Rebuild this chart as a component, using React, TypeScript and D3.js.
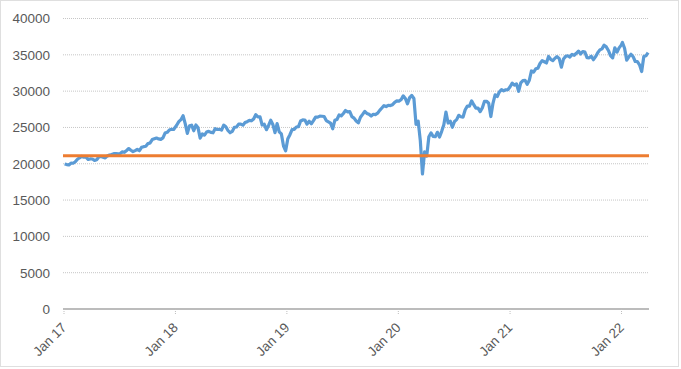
import React from 'react';
import * as d3 from 'd3';

// weekly closes (one array per year)
const dow2017 = [
  19964, 19886, 19827, 20094, 20071, 20269, 20624, 20822, 21005, 20902,
  20914, 20596, 20663, 20656, 20453, 20547, 20940, 21006, 20896, 20804,
  21080, 21206, 21271, 21384, 21394, 21349, 21414, 21637, 21580, 21830,
  22092, 21858, 21674, 21813, 21987, 21797, 22268, 22349, 22405, 22773,
  22871, 23328, 23434, 23539, 23422, 23358, 23557, 24231, 24329, 24651,
  24754, 24719,
];
const dow2018 = [
  25296, 25803, 26072, 26617, 25521, 24191, 25219, 25310, 24538, 25336,
  24947, 23533, 24103, 23933, 24360, 24463, 24311, 24263, 24831, 24715,
  24753, 24635, 25317, 25090, 24580, 24271, 24456, 25019, 25058, 25451,
  25463, 25313, 25669, 25790, 25965, 25917, 26155, 26744, 26458, 26447,
  25340, 25444, 24688, 25271, 25989, 25413, 24286, 25538, 24389, 24101,
  22445, 21792,
];
const dow2019 = [
  23433, 23996, 24706, 24737, 25064, 25106, 25883, 26031, 26026, 25450,
  25849, 25502, 25929, 26425, 26412, 26559, 26543, 26505, 25942, 25764,
  25586, 24815, 25984, 26090, 26719, 26600, 26922, 27332, 27154, 27192,
  26485, 26287, 25886, 25629, 26403, 26797, 27220, 26935, 26820, 26573,
  26817, 26770, 26958, 27347, 27681, 28005, 27876, 28051, 28015, 28135,
  28455, 28645,
];
const dow2020 = [
  28635, 28823, 29348, 28990, 28256, 29103, 29398, 28992, 25409, 25865,
  23186, 18591, 21637, 21053, 23719, 24242, 23775, 23724, 24331, 23685,
  24465, 25383, 27111, 25606, 25871, 25016, 25827, 26075, 26672, 26470,
  26428, 27433, 27931, 27930, 28654, 28133, 27666, 27657, 27174, 27682,
  28587, 28606, 28336, 26502, 28323, 29480, 29263, 29910, 30218, 30046,
  30179, 30200,
];
const dow2021 = [
  30606, 31098, 30814, 30997, 29983, 31148, 31458, 31494, 30932, 31496,
  32779, 32628, 33072, 33153, 33801, 34200, 34043, 33875, 34778, 34382,
  34208, 34529, 34756, 34480, 33290, 34433, 34786, 34870, 34687, 35062,
  34935, 35209, 35515, 35120, 35456, 35369, 34608, 34585, 34798, 34327,
  34746, 35295, 35677, 35820, 36328, 36100, 35602, 34899, 34580, 35971,
  35365, 35951, 36338,
];
const dow2022 = [
  36700, 35912, 34265, 34725, 35090, 34738, 34079, 34059, 33615, 32700,
  34755, 34861, 35300,
];

const yearStarts = ['2017-01-03', '2018-01-05', '2019-01-04', '2020-01-03', '2021-01-01', '2022-01-04'];
const yearSeries = [dow2017, dow2018, dow2019, dow2020, dow2021, dow2022];

const thresholdValue = 21100;
const yTicks = [0, 5000, 10000, 15000, 20000, 25000, 30000, 35000, 40000];
const xTickYears = [2017, 2018, 2019, 2020, 2021, 2022];

const W = 681;
const H = 369;

const parse = d3.timeParse('%Y-%m-%d');
const points: { date: Date; value: number }[] = [];
yearSeries.forEach((vals, yi) => {
  const start = parse(yearStarts[yi]) as Date;
  vals.forEach((v, i) => points.push({ date: d3.timeDay.offset(start, i * 7), value: v }));
});

const x = d3.scaleTime()
  .domain([new Date(2017, 0, 1), new Date(2022, 3, 1)])
  .range([64, 649]);
const y = d3.scaleLinear().domain([0, 40000]).range([309, 18.5]);

const line = d3.line<{ date: Date; value: number }>()
  .x(d => x(d.date))
  .y(d => y(d.value));

const fmt = d3.timeFormat('%b %y');
const font = '"Liberation Sans", Arial, sans-serif';

export default function App() {
  const [x0, x1] = x.range();
  return (
    <svg width={W} height={H} style={{ position: 'absolute', left: 0, top: 0, background: '#fff' }}>
      <rect x={0.5} y={0.5} width={W - 3} height={H - 3} fill="#fff" stroke="#bfbfbf" strokeDasharray="1,1" />
      {/* gridlines */}
      {yTicks.filter(t => t > 0).map(t => (
        <line key={t} x1={x0 - 1} x2={x1} y1={y(t)} y2={y(t)} stroke="#c6c6c6" strokeDasharray="1,1" />
      ))}
      {/* y labels */}
      {yTicks.map(t => (
        <text key={t} x={50} y={y(t)} dy="0.36em" textAnchor="end" fontFamily={font} fontSize={13.5} fill="#595959">
          {t}
        </text>
      ))}
      {/* x axis */}
      <line x1={x0 - 1} x2={x1} y1={y(0)} y2={y(0)} stroke="#a6a6a6" strokeWidth={1.6} />
      {xTickYears.map(yr => {
        const tx = x(new Date(yr, 0, 1));
        return (
          <g key={yr}>
            <line x1={tx} x2={tx} y1={y(0)} y2={y(0) + 5} stroke="#bfbfbf" strokeDasharray="1,1" />
            <text
              transform={`translate(${tx},${y(0) + 16}) rotate(-45)`}
              textAnchor="end"
              dy="0.35em"
              fontFamily={font}
              fontSize={13.5}
              fill="#595959"
            >
              {fmt(new Date(yr, 0, 1))}
            </text>
          </g>
        );
      })}
      {/* series */}
      <path d={line(points) || ''} fill="none" stroke="#5B9BD5" strokeWidth={3.2} strokeLinejoin="round" />
      <line x1={x0 - 1} x2={x1} y1={y(thresholdValue)} y2={y(thresholdValue)} stroke="#ED7D31" strokeWidth={3} />
    </svg>
  );
}
